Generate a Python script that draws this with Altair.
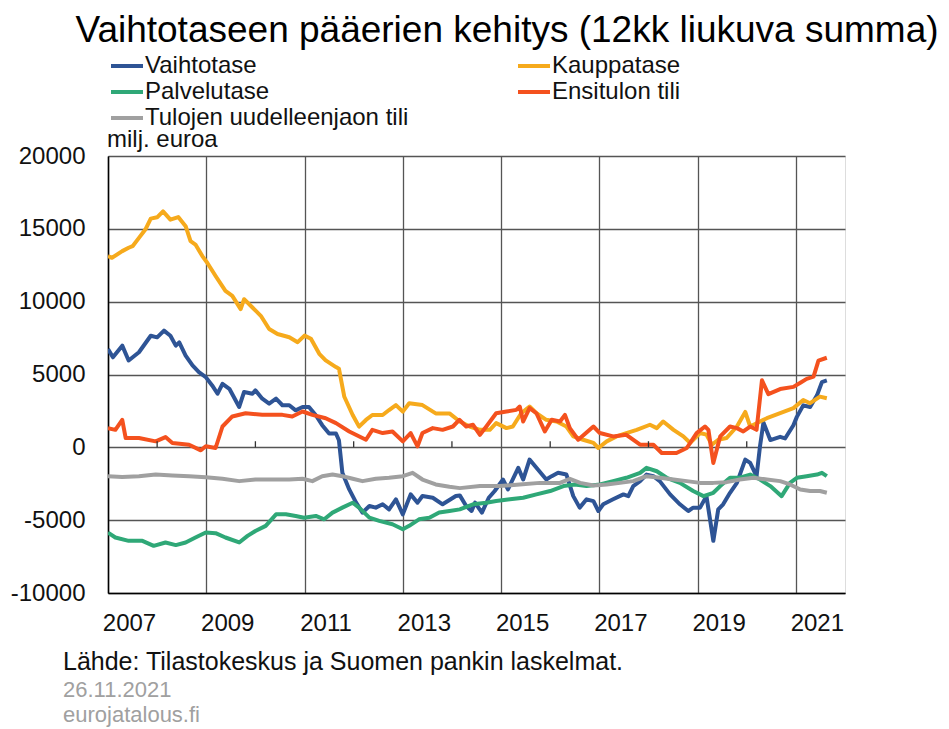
import altair as alt
import pandas as pd

title_text = "Vaihtotaseen pääerien kehitys (12kk liukuva summa)"
unit_text = "milj. euroa"
source_text = "Lähde: Tilastokeskus ja Suomen pankin laskelmat."
date_text = "26.11.2021"
site_text = "eurojatalous.fi"

# order chosen so that the two-column legend reads like the reference
series_names = ["Vaihtotase", "Palvelutase", "Tulojen uudelleenjaon tili",
                "Kauppatase", "Ensitulon tili"]
series_colors = ["#2E5495", "#2FA877", "#A0A0A0", "#F6AA1C", "#F4511E"]

x_ticks = [2007, 2009, 2011, 2013, 2015, 2017, 2019, 2021]
minor_ticks = [2008, 2010, 2012, 2014, 2016, 2018, 2020]
y_ticks = [-10000, -5000, 0, 5000, 10000, 15000, 20000]

vaihto_t = [2007.0, 2007.1, 2007.29, 2007.42, 2007.63, 2007.87, 2008.0, 2008.14, 2008.27,
            2008.38, 2008.45, 2008.58, 2008.72, 2008.85, 2008.99, 2009.12, 2009.23, 2009.33,
            2009.47, 2009.67, 2009.77, 2009.94, 2010.0, 2010.14, 2010.28, 2010.42, 2010.55,
            2010.69, 2010.82, 2010.96, 2011.09, 2011.23, 2011.36, 2011.5, 2011.64, 2011.7,
            2011.77, 2011.91, 2012.05, 2012.18, 2012.32, 2012.45, 2012.59, 2012.72, 2012.86,
            2013.0, 2013.16, 2013.3, 2013.4, 2013.61, 2013.81, 2014.08, 2014.16, 2014.29,
            2014.4, 2014.47, 2014.61, 2014.75, 2014.87, 2015.04, 2015.14, 2015.35, 2015.45,
            2015.58, 2015.75, 2015.92, 2016.03, 2016.16, 2016.33, 2016.47, 2016.6, 2016.74,
            2016.88, 2016.98, 2017.08, 2017.28, 2017.49, 2017.59, 2017.69, 2017.83, 2017.96,
            2018.1, 2018.23, 2018.44, 2018.64, 2018.81, 2018.91, 2019.05, 2019.18, 2019.32,
            2019.42, 2019.52, 2019.66, 2019.8, 2019.97, 2020.07, 2020.2, 2020.27, 2020.34,
            2020.48, 2020.68, 2020.78, 2020.95, 2021.02, 2021.15, 2021.29, 2021.43, 2021.53,
            2021.63]
vaihto_v = [6750, 6180, 6980, 5960, 6530, 7660, 7550, 8010, 7660,
            6980, 7210, 6300, 5620, 5160, 4820, 4250, 3680, 4360,
            4020, 2770, 3800, 3680, 3910, 3340, 3000, 3340, 2890,
            2890, 2540, 2770, 2770, 2200, 1520, 950, 950, 490,
            -1750, -2890, -3800, -4480, -4030, -4140, -3910, -4260, -3570,
            -4600, -3230, -3800, -3340, -3460, -3910, -3340, -3300, -4030,
            -4370, -3800, -4480, -3460, -3000, -2210, -2890, -1410, -2210,
            -840, -1520, -2210, -1980, -1750, -1870, -3350, -4140, -3570,
            -3690, -4370, -3910, -3570, -3230, -3350, -2660, -2320, -1870,
            -1980, -2320, -3230, -3910, -4370, -4140, -4140, -3350, -6420,
            -4260, -3910, -3120, -2440, -840, -1070, -1980, 70, 1700,
            500, 720, 610, 1520, 2090, 2880, 2770, 3570, 4480,
            4590]

kauppa_t = [2007.0, 2007.08, 2007.29, 2007.42, 2007.5, 2007.63, 2007.76, 2007.87, 2008.0,
            2008.12, 2008.27, 2008.43, 2008.58, 2008.68, 2008.78, 2008.92, 2009.02, 2009.19,
            2009.39, 2009.53, 2009.7, 2009.77, 2009.94, 2010.11, 2010.28, 2010.45, 2010.69,
            2010.86, 2011.0, 2011.13, 2011.3, 2011.43, 2011.64, 2011.7, 2011.81, 2011.98,
            2012.11, 2012.25, 2012.38, 2012.59, 2012.72, 2012.86, 2013.0, 2013.13, 2013.4,
            2013.67, 2013.95, 2014.16, 2014.36, 2014.57, 2014.77, 2014.9, 2015.11, 2015.24,
            2015.41, 2015.58, 2015.72, 2015.92, 2016.13, 2016.33, 2016.47, 2016.67, 2016.88,
            2016.98, 2017.15, 2017.35, 2017.55, 2017.76, 2018.03, 2018.17, 2018.3, 2018.51,
            2018.71, 2018.85, 2019.05, 2019.18, 2019.29, 2019.42, 2019.59, 2019.8, 2019.97,
            2020.07, 2020.27, 2020.41, 2020.68, 2020.95, 2021.15, 2021.29, 2021.49, 2021.63]
kauppa_v = [13130, 13010, 13470, 13700, 13810, 14380, 14950, 15700, 15790,
            16200, 15630, 15810, 15180, 14150, 13920, 13130, 12670, 11760,
            10740, 10400, 9490, 10170, 9600, 9030, 8120, 7780, 7560,
            7220, 7670, 7450, 6420, 5970, 5510, 5400, 3470, 2220,
            1420, 1880, 2220, 2220, 2560, 2900, 2450, 3020, 2900,
            2330, 2330, 1775, 1430, 1200, 1200, 1660, 1320, 1430,
            2340, 2800, 2340, 1890, 1775, 1430, 750, 520, 300,
            -45, 410, 750, 980, 1200, 1550, 1320, 1775, 1200,
            750, 300, 980, 870, 180, 520, 640, 1430, 2430,
            1430, 1775, 2000, 2340, 2690, 3250, 3030, 3480, 3370]

palvelu_t = [2007.0, 2007.15, 2007.42, 2007.7, 2007.93, 2008.17, 2008.38, 2008.58, 2008.78,
             2008.99, 2009.19, 2009.39, 2009.67, 2009.84, 2010.0, 2010.21, 2010.42, 2010.62,
             2010.82, 2010.99, 2011.23, 2011.4, 2011.57, 2011.77, 2011.98, 2012.11, 2012.32,
             2012.52, 2012.79, 2013.0, 2013.13, 2013.33, 2013.54, 2013.74, 2013.95, 2014.16,
             2014.43, 2014.7, 2014.9, 2015.18, 2015.45, 2015.72, 2016.0, 2016.27, 2016.5,
             2016.74, 2017.01, 2017.28, 2017.55, 2017.83, 2017.96, 2018.17, 2018.37, 2018.64,
             2018.91, 2019.12, 2019.32, 2019.46, 2019.66, 2019.86, 2020.07, 2020.27, 2020.48,
             2020.71, 2020.88, 2021.02, 2021.22, 2021.43, 2021.53, 2021.63]
palvelu_v = [-5850, -6190, -6420, -6420, -6760, -6530, -6710, -6530, -6190,
             -5850, -5890, -6190, -6530, -6080, -5740, -5390, -4600, -4600,
             -4710, -4830, -4710, -4940, -4480, -4140, -3800, -4140, -4830,
             -5050, -5280, -5620, -5390, -4940, -4830, -4480, -4370, -4260,
             -3910, -3800, -3690, -3570, -3460, -3230, -3000, -2660, -2550,
             -2660, -2550, -2320, -2090, -1750, -1410, -1640, -2090, -2440,
             -3000, -3350, -3120, -2660, -2090, -2090, -1870, -2210, -2660,
             -3350, -2440, -2090, -1980, -1870, -1750, -1980]

ensi_t = [2007.0, 2007.15, 2007.29, 2007.36, 2007.63, 2007.97, 2008.17, 2008.31, 2008.65,
          2008.89, 2008.99, 2009.19, 2009.33, 2009.53, 2009.8, 2010.14, 2010.55, 2010.75,
          2010.96, 2011.16, 2011.43, 2011.64, 2011.91, 2012.25, 2012.38, 2012.59, 2012.79,
          2013.0, 2013.16, 2013.3, 2013.4, 2013.61, 2013.81, 2014.02, 2014.15, 2014.29,
          2014.43, 2014.57, 2014.7, 2014.9, 2015.11, 2015.31, 2015.38, 2015.45, 2015.58,
          2015.72, 2015.89, 2016.03, 2016.2, 2016.3, 2016.4, 2016.57, 2016.88, 2017.01,
          2017.28, 2017.55, 2017.83, 2018.1, 2018.27, 2018.57, 2018.78, 2018.98, 2019.15,
          2019.22, 2019.32, 2019.46, 2019.66, 2019.8, 2019.93, 2020.07, 2020.2, 2020.31,
          2020.44, 2020.68, 2020.95, 2021.1, 2021.22, 2021.36, 2021.46, 2021.63]
ensi_v = [1320, 1200, 1890, 640, 640, 410, 705, 300, 180,
          -205, 70, -45, 1430, 2120, 2340, 2230, 2230, 2120,
          2460, 2230, 2000, 1660, 1090, 520, 1200, 980, 1090,
          410, 980, 70, 980, 1320, 1200, 1430, 1890, 1430,
          1550, 860, 1430, 2340, 2460, 2570, 2800, 1775, 2690,
          2340, 1090, 1890, 1775, 2230, 1320, 520, 1430, 980,
          750, 860, 180, 180, -390, -390, -45, 980, 1430,
          1200, -1070, 750, 1430, 1320, 1090, 1430, 1200, 4600,
          3650, 4000, 4150, 4450, 4700, 4850, 5950, 6150]

tulo_t = [2007.0, 2007.29, 2007.63, 2007.97, 2008.31, 2008.65, 2008.99, 2009.33, 2009.67,
          2010.0, 2010.35, 2010.69, 2010.96, 2011.16, 2011.36, 2011.57, 2011.77, 2011.98,
          2012.18, 2012.45, 2012.72, 2013.0, 2013.2, 2013.4, 2013.67, 2013.95, 2014.16,
          2014.57, 2014.97, 2015.38, 2015.79, 2016.2, 2016.4, 2016.61, 2016.88, 2017.15,
          2017.42, 2017.69, 2017.96, 2018.23, 2018.51, 2018.78, 2019.05, 2019.32, 2019.59,
          2019.86, 2020.14, 2020.41, 2020.68, 2020.88, 2021.09, 2021.29, 2021.49, 2021.63]
tulo_v = [-1980, -2030, -1980, -1870, -1930, -1980, -2050, -2160, -2320,
          -2210, -2210, -2210, -2160, -2320, -1980, -1870, -1980, -2160,
          -2320, -2160, -2090, -1980, -1750, -2210, -2550, -2710, -2800,
          -2660, -2660, -2550, -2440, -2440, -2160, -2440, -2620, -2550,
          -2440, -2320, -1980, -2090, -2210, -2320, -2440, -2440, -2390,
          -2210, -2090, -2210, -2320, -2550, -2890, -3000, -3000, -3120]

series_data = {
    "Vaihtotase": (vaihto_t, vaihto_v),
    "Kauppatase": (kauppa_t, kauppa_v),
    "Palvelutase": (palvelu_t, palvelu_v),
    "Ensitulon tili": (ensi_t, ensi_v),
    "Tulojen uudelleenjaon tili": (tulo_t, tulo_v),
}

rows = []
for name in series_names:
    ts, vs = series_data[name]
    for t, v in zip(ts, vs):
        rows.append({"t": t, "v": v, "series": name})
df = pd.DataFrame(rows)

FONT = "Liberation Sans"

x_scale = alt.Scale(domain=[2007, 2022], nice=False, zero=False)
y_scale = alt.Scale(domain=[-10000, 20000], nice=False, zero=False)

x_axis = alt.Axis(values=x_ticks, format="d", title="", grid=True, ticks=False,
                  labelOffset=21, labelFlush=False, labelOverlap=False, labelBound=False,
                  labelPadding=18, labelFontSize=24, labelFont=FONT,
                  labelColor="#111111", gridColor="#555555", gridWidth=1.3,
                  domainColor="#000000", domainWidth=1.5)
y_axis = alt.Axis(values=y_ticks, title="", grid=True, ticks=False,
                  labelExpr="datum.value < 0 ? '-' + format(-datum.value, 'd') : format(datum.value, 'd')",
                  labelPadding=23, labelFontSize=24, labelFont=FONT,
                  labelOverlap=False, labelFlush=False,
                  labelColor="#111111", gridColor="#555555", gridWidth=1.3,
                  domainColor="#000000", domainWidth=1.5)

lines = alt.Chart(df).mark_line(strokeWidth=4, strokeJoin="round", clip=True).encode(
    x=alt.X("t:Q", scale=x_scale, axis=x_axis),
    y=alt.Y("v:Q", scale=y_scale, axis=y_axis),
    color=alt.Color("series:N", sort=series_names,
                    scale=alt.Scale(domain=series_names, range=series_colors),
                    legend=alt.Legend(title=None, orient="none", legendX=1, legendY=-103,
                                      columns=2, symbolType="stroke", symbolSize=1024,
                                      symbolStrokeWidth=4, labelFontSize=24,
                                      labelFont=FONT, labelColor="#111111",
                                      labelLimit=600, columnPadding=107, rowPadding=0,
                                      clipHeight=26, labelOffset=0, padding=0)),
)

ticks = alt.Chart(pd.DataFrame({"t": minor_ticks})).mark_rule(
    color="#333333", strokeWidth=1.3).encode(
    x=alt.X("t:Q", scale=x_scale, axis=x_axis),
    y=alt.datum(0),
    y2=alt.datum(420),
)


def label(text, x, y, size, color="#111111", align="left"):
    return alt.Chart(pd.DataFrame({"label": [text]})).mark_text(
        font=FONT, fontSize=size, color=color, align=align, baseline="alphabetic"
    ).encode(text="label:N", x=alt.value(x), y=alt.value(y))


title = label(title_text, 399, -114, 37, color="#000000", align="center")
unit = label(unit_text, -1, -9, 24)
src = label(source_text, -45, 514, 25)
date = label(date_text, -45, 541, 22, color="#A0A0A0")
site = label(site_text, -45, 566, 22, color="#A0A0A0")

chart = alt.layer(lines, ticks, title, unit, src, date, site).properties(
    width=737,
    height=437,
    autosize=alt.AutoSizeParams(type="none"),
    padding={"left": 100, "top": 148, "right": 96, "bottom": 134},
).configure_view(stroke="#000000", strokeWidth=1.5).configure(background="white")

chart.save("out.html", embed_options={"renderer": "svg", "actions": False})
